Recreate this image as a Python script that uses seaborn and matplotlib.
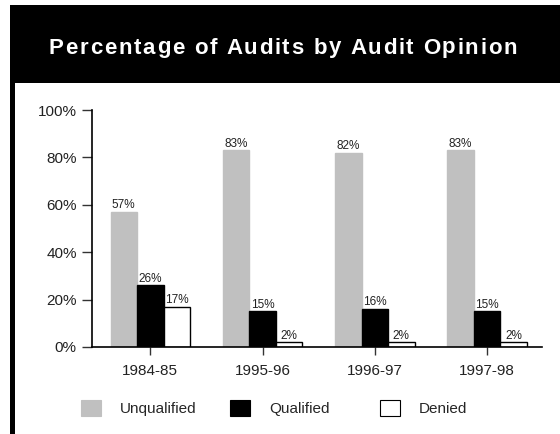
import numpy as np
import pandas as pd
import matplotlib
matplotlib.use('Agg')
import matplotlib.pyplot as plt
from matplotlib.patches import Rectangle, Patch
from matplotlib.font_manager import FontProperties
import seaborn as sns

# data
years = ['1984-85', '1995-96', '1996-97', '1997-98']
opinions = ['Unqualified', 'Qualified', 'Denied']
unqualified = [57, 83, 82, 83]
qualified = [26, 15, 16, 15]
denied = [17, 2, 2, 2]
title = 'Percentage of Audits by Audit Opinion'

df = pd.DataFrame({
    'year': years * 3,
    'opinion': [o for o in opinions for _ in years],
    'pct': unqualified + qualified + denied,
})
colors = {'Unqualified': '#c0c0c0', 'Qualified': '#000000', 'Denied': '#ffffff'}
edges = {'Unqualified': '#c0c0c0', 'Qualified': '#000000', 'Denied': '#000000'}

sns.set_style('ticks')
plt.rcParams['font.family'] = ['Liberation Sans', 'DejaVu Sans']

fig = plt.figure(figsize=(5.6, 4.34), dpi=100)
ax = fig.add_axes([92/560, 1 - 347/434, 450/560, 237/434])

sns.barplot(data=df, x='year', y='pct', hue='opinion', hue_order=opinions,
            palette=colors, width=0.71, gap=0, saturation=1, ax=ax,
            edgecolor='black', linewidth=1, legend=False)

for cont, op in zip(ax.containers, opinions):
    for bar in cont:
        bar.set_edgecolor(edges[op])
    ax.bar_label(cont, labels=[f'{int(v)}%' for v in cont.datavalues],
                 padding=0.5, fontsize=8.5, color='#222222')

ax.set_ylim(0, 100)
ax.set_xlim(-0.52, 3.49)
ax.set_yticks([0, 20, 40, 60, 80, 100])
ax.set_yticklabels([f'{t}%' for t in [0, 20, 40, 60, 80, 100]])
ax.set_xlabel('')
ax.set_ylabel('')
ax.tick_params(axis='both', labelsize=11, width=1, color='#333333', labelcolor='#222222')
ax.tick_params(axis='y', length=7.5, pad=3.5)
ax.tick_params(axis='x', length=6, pad=6)
sns.despine(ax=ax)
for s in ['left', 'bottom']:
    ax.spines[s].set_linewidth(1.2)
    ax.spines[s].set_color('black')

# black title band and left rule
fig.patches.append(Rectangle((10/560, 1 - 83/434), 1 - 10/560, 78.5/434,
                             transform=fig.transFigure, facecolor='black', edgecolor='none'))
fig.patches.append(Rectangle((10/560, 0), 5/560, 1 - 83/434,
                             transform=fig.transFigure, facecolor='black', edgecolor='none'))

# title with slight letter spacing, placed char by char
fp = FontProperties(family='Liberation Sans', weight='bold', size=16)
rend = fig.canvas.get_renderer()
def tw(s):
    return rend.get_text_width_height_descent(s, fp, ismath=False)[0]
target_w = 468
track = (target_w - tw(title)) / (len(title) - 1)
wI = tw('I')
xs = [tw(title[:i] + 'I') - wI + i * track for i in range(len(title))]
x0 = 283 - target_w / 2
for ch, dx in zip(title, xs):
    if ch != ' ':
        fig.text((x0 + dx) / 560, 1 - 48/434, ch, color='white', fontproperties=fp,
                 ha='left', va='center')

# legend: one entry per fixed-width column
for op, xl in zip(opinions, [81, 230, 380]):
    h = Patch(facecolor=colors[op], edgecolor=edges[op], linewidth=0.8)
    fig.legend([h], [op], loc='center left', bbox_to_anchor=(xl/560, 1 - 408/434),
               frameon=False, fontsize=11, handlelength=1.3, handleheight=1.3,
               handletextpad=1.24, borderpad=0, borderaxespad=0)

fig.savefig('out.png', dpi=100)
